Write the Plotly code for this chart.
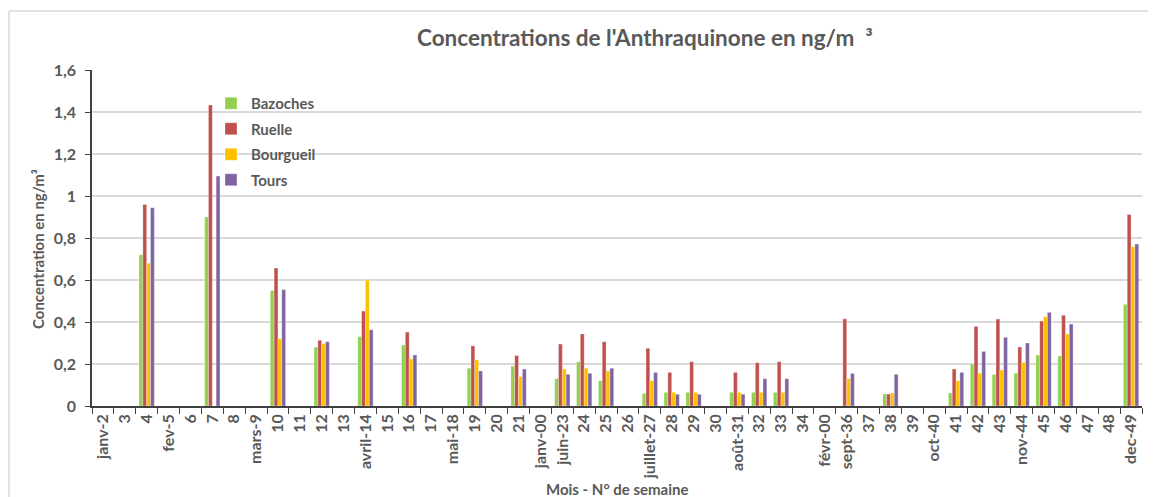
import plotly.graph_objects as go

categories = ["janv-2", "3", "4", "fev-5", "6", "7", "8", "mars-9", "10", "11", "12", "13",
              "avril-14", "15", "16", "17", "mai-18", "19", "20", "21", "janv-00", "juin-23",
              "24", "25", "26", "juillet-27", "28", "29", "30", "août-31", "32", "33", "34",
              "févr-00", "sept-36", "37", "38", "39", "oct-40", "41", "42", "43", "nov-44",
              "45", "46", "47", "48", "dec-49"]

N = None
bazoches = [N, N, 0.72, N, N, 0.90, N, N, 0.55, N, 0.28, N,
            0.33, N, 0.29, N, N, 0.18, N, 0.19, N, 0.13,
            0.21, 0.12, N, 0.06, 0.065, 0.065, N, 0.065, 0.065, 0.065, N,
            N, N, N, 0.057, N, N, 0.062, 0.20, 0.15, 0.156,
            0.243, 0.238, N, N, 0.484]
ruelle = [N, N, 0.96, N, N, 1.433, N, N, 0.657, N, 0.313, N,
          0.452, N, 0.352, N, N, 0.286, N, 0.24, N, 0.295,
          0.343, 0.306, N, 0.275, 0.16, 0.211, N, 0.16, 0.206, 0.211, N,
          N, 0.415, N, 0.057, N, N, 0.176, 0.379, 0.414, 0.281,
          0.405, 0.432, N, N, 0.912]
bourgueil = [N, N, 0.68, N, N, N, N, N, 0.32, N, 0.297, N,
             0.60, N, 0.224, N, N, 0.219, N, 0.14, N, 0.176,
             0.18, 0.167, N, 0.12, 0.065, 0.065, N, 0.065, 0.065, 0.065, N,
             N, 0.13, N, 0.062, N, N, 0.12, 0.156, 0.171, 0.208,
             0.425, 0.343, N, N, 0.759]
tours = [N, N, 0.944, N, N, 1.095, N, N, 0.554, N, 0.306, N,
         0.363, N, 0.243, N, N, 0.167, N, 0.176, N, 0.151,
         0.156, 0.18, N, 0.16, 0.056, 0.056, N, 0.056, 0.13, 0.13, N,
         N, 0.155, N, 0.151, N, N, 0.16, 0.26, 0.327, 0.30,
         0.446, 0.39, N, N, 0.771]

series = [("Bazoches", bazoches, "#92D050"),
          ("Ruelle", ruelle, "#C0504D"),
          ("Bourgueil", bourgueil, "#FFC000"),
          ("Tours", tours, "#8064A2")]

FONT = "Lato"
GREY = "#595959"

fig = go.Figure()
for i, (name, vals, col) in enumerate(series):
    fig.add_trace(go.Bar(
        name=name, x=categories, y=vals,
        marker=dict(color=col, line=dict(color="rgba(255,255,255,0.6)", width=0.5)),
        legendgroup=name,
    ))

# page body adds an 8px offset; figure is sized so the plot lands where the reference has it
OFF = 8
W, H = 1156 - OFF, 497 - OFF
L, R, T, B = 92 - OFF, 14, 70 - OFF, 91
pw, ph = W - L - R, H - T - B


def px_x(px):
    return (px - 92) / pw


def px_y(py):
    return (406 - py) / ph


fig.update_layout(
    width=W, height=H,
    margin=dict(l=L, r=R, t=T, b=B),
    paper_bgcolor="white", plot_bgcolor="white",
    barmode="group", bargap=0.3, bargroupgap=0,
    separators=", ",
    font=dict(family=FONT, color=GREY, size=13),
    showlegend=True,
    legend=dict(
        x=px_x(211), y=px_y(87), xanchor="left", yanchor="top",
        bgcolor="rgba(0,0,0,0)", tracegroupgap=3,
        font=dict(family=FONT, size=15, color=GREY, weight="bold"),
        itemwidth=30,
    ),
    xaxis=dict(
        type="category", categoryorder="array", categoryarray=categories,
        tickangle=-90, ticks="outside", tickson="boundaries", ticklen=6,
        tickcolor="#404040", showline=True, linecolor="#404040", linewidth=1.5,
        tickfont=dict(family=FONT, size=16, color=GREY, weight="bold"),
        showgrid=False,
    ),
    yaxis=dict(
        range=[0, 1.6], tickvals=[0, 0.2, 0.4, 0.6, 0.8, 1, 1.2, 1.4, 1.6],
        ticks="outside", ticklen=5, tickcolor="#404040",
        showline=True, linecolor="#404040", linewidth=1.5,
        gridcolor="#D9D9D9", gridwidth=1.5,
        tickfont=dict(family=FONT, size=16, color=GREY, weight="bold"),
        ticklabelstandoff=6,
        zeroline=False,
    ),
)

fig.add_annotation(
    text="Concentrations de l'Anthraquinone en ng/m  ³",
    xref="paper", yref="paper", x=px_x(645), y=px_y(38),
    xanchor="center", yanchor="middle", showarrow=False,
    font=dict(family=FONT, size=22.5, color=GREY, weight="bold"),
)
fig.add_annotation(
    text="Concentration en ng/m³",
    xref="paper", yref="paper", x=px_x(38), y=px_y(249),
    xanchor="center", yanchor="middle", textangle=-90, showarrow=False,
    font=dict(family=FONT, size=15, color=GREY, weight="bold"),
)
fig.add_annotation(
    text="Mois - N° de semaine",
    xref="paper", yref="paper", x=px_x(617), y=px_y(489),
    xanchor="center", yanchor="middle", showarrow=False,
    font=dict(family=FONT, size=15, color=GREY, weight="bold"),
)

# light chart-area border (top and left edges visible)
fig.add_shape(type="line", xref="paper", yref="paper",
              x0=px_x(9), x1=px_x(1156), y0=px_y(11), y1=px_y(11),
              line=dict(color="#D9D9D9", width=1.5))
fig.add_shape(type="line", xref="paper", yref="paper",
              x0=px_x(9), x1=px_x(9), y0=px_y(11), y1=px_y(497),
              line=dict(color="#D9D9D9", width=1.5))

fig.write_html("out.html")
